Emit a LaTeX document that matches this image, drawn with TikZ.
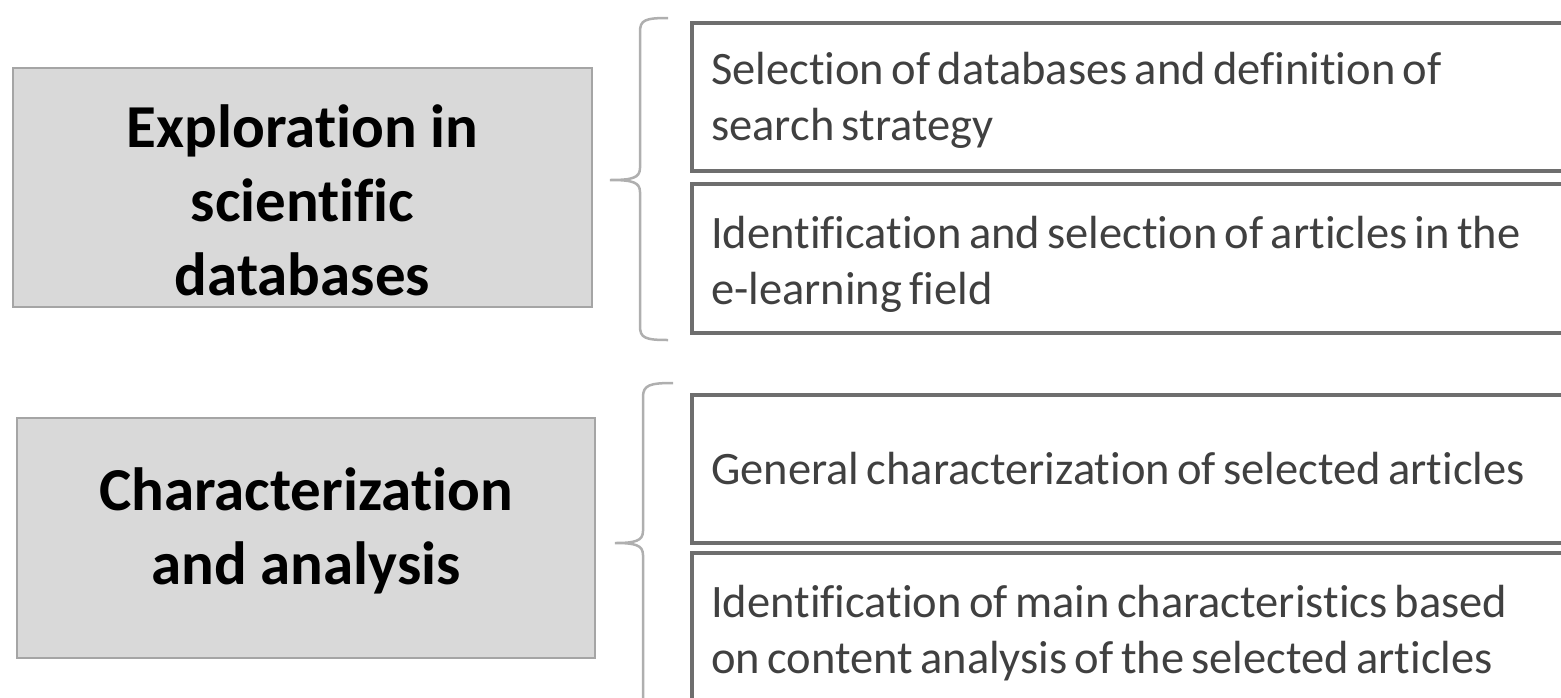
\documentclass[tikz,border=0pt]{standalone}
\usepackage{fontspec}
\setmainfont{Carlito}[Ligatures=NoCommon]
\newfontfamily\stepfont{Carlito}[Ligatures=NoCommon, WordSpace=0.7]

\definecolor{phasefill}{RGB}{217,217,217}
\definecolor{phaseline}{RGB}{165,165,165}
\definecolor{stepline}{RGB}{110,110,110}
\definecolor{steptext}{RGB}{64,64,64}
\definecolor{braceline}{RGB}{175,175,175}

\tikzset{
  phase/.style={draw=phaseline, line width=2pt, fill=phasefill},
  phasetext/.style={align=center, font=\fontsize{61}{74}\selectfont\bfseries, text=black},
  stepbox/.style={draw=stepline, line width=3.5pt, anchor=north west, minimum width=920pt},
  steptext/.style={anchor=west, align=left, inner sep=0pt,
    font=\stepfont\fontsize{46.5}{56}\selectfont, text=steptext},
  group/.style={draw=braceline, line width=2.5pt},
}

\begin{document}
\begin{tikzpicture}[x=1pt, y=-1pt]
    \useasboundingbox (0,0) rectangle (1561,697);
    \clip (0,0) rectangle (1561,697);

    % Phases on the left
    \node[phase, minimum width=579pt, minimum height=239pt] (explore) at (302.5,187.5) {};
    \node[phasetext] (exploretext) at ([yshift=-13pt]explore.center)
        {Exploration in\\scientific\\databases};
    \node[phase, minimum width=578pt, minimum height=240pt] (charact) at (306,538) {};
    \node[phasetext] (characttext) at ([yshift=7pt]charact.center)
        {Characterization\\and analysis};

    % Steps of the first phase
    \node[stepbox, minimum height=148pt] (select) at (690,21) {};
    \node[steptext] (selecttext) at ([xshift=21pt,yshift=-4pt]select.west)
        {Selection of databases and definition of\\search strategy};
    \node[stepbox, minimum height=149pt] (identify) at (690,182) {};
    \node[steptext] (identifytext) at ([xshift=21pt,yshift=-6pt]identify.west)
        {Identification and selection of articles in the\\e-learning field};

    % Steps of the second phase
    \node[stepbox, minimum height=148pt] (general) at (690,393) {};
    \node[steptext] (generaltext) at ([xshift=21pt]general.west)
        {General characterization of selected articles};
    \node[stepbox, minimum height=150pt] (mainchar) at (690,551) {};
    \node[steptext] (maintext) at ([xshift=21pt,yshift=-5pt]mainchar.west)
        {Identification of main characteristics based\\on content analysis of the selected articles};

    % Braces grouping the steps
    \draw[group] (668,18) .. controls (645,18) and (640,20) .. (640,32)
        -- (640,168) .. controls (640,178) and (632,180) .. (610,180)
        .. controls (632,180) and (640,182) .. (640,192)
        -- (640,326) .. controls (640,338) and (645,340) .. (668,340);
    \draw[group] (673,383) .. controls (650,383) and (643,385) .. (643,397)
        -- (643,531) .. controls (643,541) and (635,543) .. (615,543)
        .. controls (635,543) and (643,545) .. (643,555)
        -- (643,703);
\end{tikzpicture}
\end{document}
